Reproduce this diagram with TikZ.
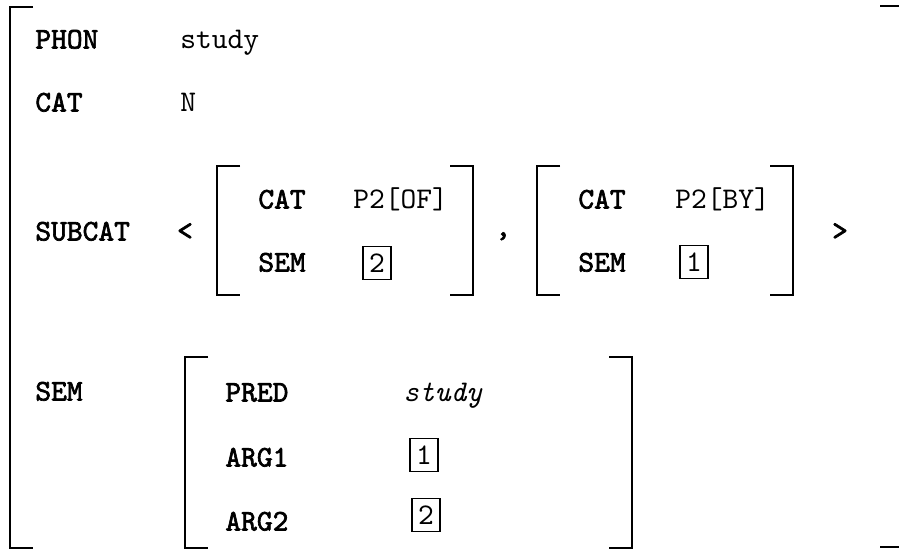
\documentclass[tikz,border=0pt]{standalone}
\usepackage{fontspec}
\setmonofont{lmmono10-regular.otf}[
  BoldFont=lmmono10-regular.otf, BoldFeatures={FakeBold=2.2},
  ItalicFont=lmmono10-italic.otf]
\tikzset{
  rasgo/.style={font=\ttfamily\bfseries\fontsize{15}{18}\selectfont, anchor=base west, inner sep=0pt},
  valor/.style={font=\ttfamily\fontsize{15}{18}\selectfont, anchor=base west, inner sep=0pt},
  signo/.style={font=\ttfamily\bfseries\fontsize{15}{18}\selectfont, anchor=base, inner sep=0pt},
  etiq/.style={draw, line width=0.7pt, minimum width=14pt, minimum height=16.5pt,
               inner sep=0pt, font=\ttfamily\fontsize{15}{18}\selectfont},
  corchete/.style={line width=1pt}
}
\begin{document}
\begin{tikzpicture}[x=0.5pt, y={(0pt,-0.5pt)}]
    \useasboundingbox (0,0) rectangle (899,551);

    % Corchetes exteriores
    \draw[corchete] (33,7) -- (10,7) -- (10,548) -- (33,548);
    \draw[corchete] (880,6) -- (904,6) -- (904,547) -- (880,547);

    % PHON y CAT
    \node[rasgo] (phon) at (35,48.5) {PHON};
    \node[valor] (phonval) at (180,48.5) {study};
    \node[rasgo] (cat) at (35,111.5) {CAT};
    \node[valor] (catval) at (180,111.5) {N};

    % SUBCAT: lista < [...] , [...] >
    \node[rasgo] (subcat) at (35,240.5) {SUBCAT};
    \node[signo] (lt) at (185,240) {<};
    \draw[corchete] (240,166) -- (217,166) -- (217,295) -- (240,295);
    \draw[corchete] (450,166) -- (473,166) -- (473,295) -- (450,295);
    \node[rasgo] (pcat) at (258,208.5) {CAT};
    \node[valor] (pcatval) at (353,208.5) {P2[OF]};
    \node[rasgo] (psem) at (258,271.5) {SEM};
    \node[etiq] (ptag) at (377,263) {2};
    \node[signo] (coma) at (503,236) {,};
    \draw[corchete] (560,166) -- (537,166) -- (537,295) -- (560,295);
    \draw[corchete] (770,166) -- (793,166) -- (793,295) -- (770,295);
    \node[rasgo] (bcat) at (578,208.5) {CAT};
    \node[valor] (bcatval) at (675,208.5) {P2[BY]};
    \node[rasgo] (bsem) at (578,271.5) {SEM};
    \node[etiq] (btag) at (694,262) {1};
    \node[signo] (gt) at (840,240) {>};

    % SEM
    \node[rasgo] (sem) at (35,400.5) {SEM};
    \draw[corchete] (208,357) -- (185,357) -- (185,548) -- (208,548);
    \draw[corchete] (609,357) -- (632,357) -- (632,548) -- (609,548);
    \node[rasgo] (pred) at (225,401.5) {PRED};
    \node[valor, font=\ttfamily\itshape\fontsize{15}{18}\selectfont] (predval) at (403,401.5) {study};
    \node[rasgo] (arga) at (225,466.5) {ARG1};
    \node[etiq] (argatag) at (424,455) {1};
    \node[rasgo] (argb) at (225,530.5) {ARG2};
    \node[etiq] (argbtag) at (426,515) {2};
\end{tikzpicture}
\end{document}
